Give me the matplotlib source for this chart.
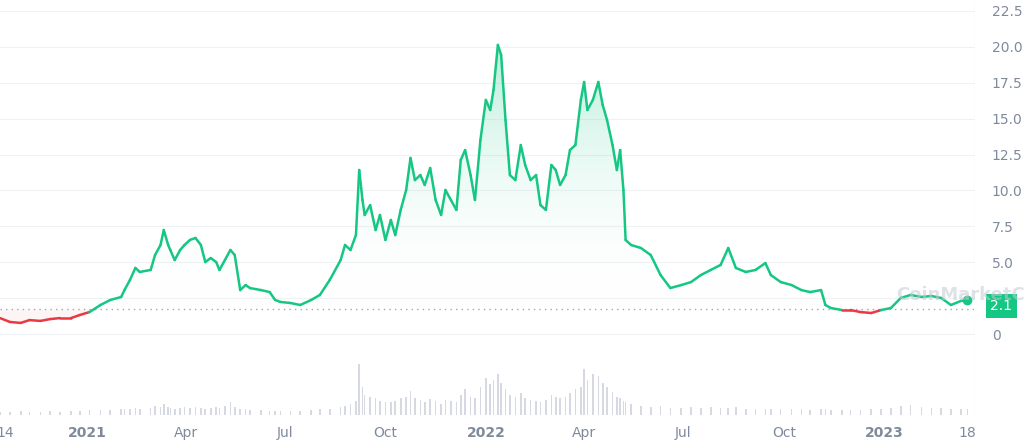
import numpy as np
import pandas as pd
import matplotlib
matplotlib.use("Agg")
import matplotlib.pyplot as plt
import matplotlib.dates as mdates
from matplotlib.colors import LinearSegmentedColormap

start = "2020-10-13"
days = [0,9,19,27,37,46,55,65,73,82,92,101,111,114,119,124,128,138,142,147,150,154,156,160,165,169,174,179,184,188,193,198,201,206,211,215,220,225,229,239,247,252,257,266,275,285,293,302,312,316,321,326,329,332,334,339,344,348,353,358,362,367,372,376,380,385,389,394,399,404,408,413,418,422,426,431,435,440,445,449,452,456,459,463,467,472,477,481,486,491,495,500,505,509,513,518,522,527,532,535,538,543,548,552,556,561,565,568,571,573,578,587,596,605,614,624,633,642,651,660,667,674,683,692,701,706,715,725,734,742,752,756,761,771,779,788,798,807,816,825,834,844,853,862,871,880,886]
price = [1.11,0.84,0.77,0.97,0.91,1.04,1.11,1.11,1.32,1.53,2.02,2.37,2.58,3.06,3.76,4.60,4.32,4.46,5.50,6.20,7.24,6.20,5.85,5.15,5.85,6.20,6.55,6.69,6.20,5.01,5.29,5.01,4.46,5.15,5.85,5.50,3.06,3.41,3.20,3.06,2.92,2.37,2.23,2.16,2.02,2.37,2.72,3.76,5.15,6.20,5.85,6.89,11.42,9.33,8.29,8.98,7.24,8.29,6.55,7.94,6.89,8.64,10.03,12.26,10.72,11.07,10.38,11.56,9.33,8.29,10.03,9.33,8.64,12.12,12.81,11.07,9.33,13.51,16.30,15.60,16.99,20.13,19.43,14.90,11.07,10.72,13.16,11.77,10.72,11.07,8.98,8.64,11.77,11.42,10.38,11.07,12.81,13.16,16.30,17.55,15.60,16.30,17.55,15.95,14.90,13.16,11.42,12.81,10.03,6.55,6.20,5.99,5.50,4.11,3.20,3.41,3.62,4.11,4.46,4.81,5.99,4.60,4.32,4.46,4.94,4.11,3.62,3.41,3.06,2.92,3.06,2.02,1.81,1.67,1.67,1.53,1.46,1.67,1.81,2.51,2.72,2.58,2.65,2.51,2.02,2.30,2.37]
volume = [3,3,4,3,3,4,3,4,4,5,5,5,6,6,7,8,7,8,10,9,12,9,8,7,8,9,8,9,8,7,8,9,8,10,14,9,7,6,5,5,4,4,4,4,4,5,6,7,9,10,12,15,55,30,22,20,18,15,14,14,15,18,20,26,18,16,14,17,15,12,16,15,14,22,28,20,18,30,40,34,38,45,35,28,22,20,24,18,16,15,14,16,22,20,18,20,24,28,30,50,38,45,42,35,30,25,20,18,15,14,12,10,9,10,8,8,9,8,9,8,8,9,7,7,6,6,7,6,6,5,7,6,5,5,5,5,6,6,8,10,11,9,8,8,7,7,6]
base_price = 1.74
last_label = "2.1"

GREEN = "#16c784"
RED = "#ea3943"
GREY = "#808a9d"

dates = pd.to_datetime(start) + pd.to_timedelta(days, unit="D")
x = mdates.date2num(dates.to_pydatetime())
p = np.array(price)

fig = plt.figure(figsize=(10.24, 4.41), dpi=100)
ax = fig.add_axes([0.0, 26/441, 975/1024, 415/441])
ymin, ymax = -5.64, 23.26
ax.set_ylim(ymin, ymax)
ax.set_xlim(x[0], mdates.date2num(pd.Timestamp("2023-03-25")))

for v in np.arange(0, 23, 2.5):
    ax.axhline(v, color="#f0f1f4", lw=0.8, zorder=0)

poly = ax.fill_between(x, np.maximum(p, base_price), base_price, color="none")
grad = np.linspace(0, 1, 256).reshape(-1, 1)
cmap = LinearSegmentedColormap.from_list("g", ["#ffffff00", "#16c78450"])
img = ax.imshow(grad, extent=[x[0], x[-1], base_price, 20.5], origin="lower",
                aspect="auto", cmap=cmap, zorder=1)
img.set_clip_path(poly.get_paths()[0], transform=ax.transData)
ax.fill_between(x, np.minimum(p, base_price), base_price, color=RED, alpha=0.05, lw=0)

for i in range(len(x) - 1):
    c = GREEN if (p[i] + p[i+1]) / 2 >= base_price else RED
    ax.plot(x[i:i+2], p[i:i+2], color=c, lw=1.8, solid_capstyle="round", zorder=3)
ax.axhline(base_price, color="#a0a6b2", lw=1, ls=(0, (1, 3)), zorder=2)
ax.plot(x[-1], p[-1], "o", color=GREEN, ms=6, zorder=4)

axv = ax.twinx()
axv.set_position(ax.get_position())
axv.bar(x, volume, width=1.5, color="#d6d9e2", zorder=1)
axv.set_ylim(0, 450)
axv.axis("off")

for s in ax.spines.values():
    s.set_visible(False)
ax.axvline(ax.get_xlim()[1], color="#eff2f5", lw=1)
ax.set_yticks(np.arange(0, 23, 2.5))
ax.set_yticklabels(["0"] + ["%.1f" % v for v in np.arange(2.5, 23, 2.5)])
ax.yaxis.tick_right()
ax.tick_params(axis="y", length=0, labelcolor=GREY, labelsize=10, pad=12)

ticks = ["2020-10-18","2021-01-01","2021-04-01","2021-07-01","2021-10-01","2022-01-01","2022-04-01","2022-07-01","2022-10-01","2023-01-01","2023-03-18"]
labels = ["14","2021","Apr","Jul","Oct","2022","Apr","Jul","Oct","2023","18"]
ax.set_xticks(mdates.date2num(pd.to_datetime(ticks).to_pydatetime()))
ax.set_xticklabels(labels)
ax.tick_params(axis="x", length=0, labelcolor=GREY, labelsize=10, pad=8)
for t, l in zip(ax.get_xticklabels(), labels):
    if l.isdigit() and len(l) == 4:
        t.set_fontweight("bold")

fig.text(0.978, 1 - 306/441, last_label, color="white", fontsize=10, ha="center", va="center",
         bbox=dict(boxstyle="square,pad=0.35", fc=GREEN, ec="none"))
fig.text(0.875, 1 - 295/441, "CoinMarketCap", color="#c4c9d3", fontsize=13, alpha=0.55,
         fontweight="bold", ha="left", va="center")

fig.savefig("out.png", dpi=100, facecolor="white")
